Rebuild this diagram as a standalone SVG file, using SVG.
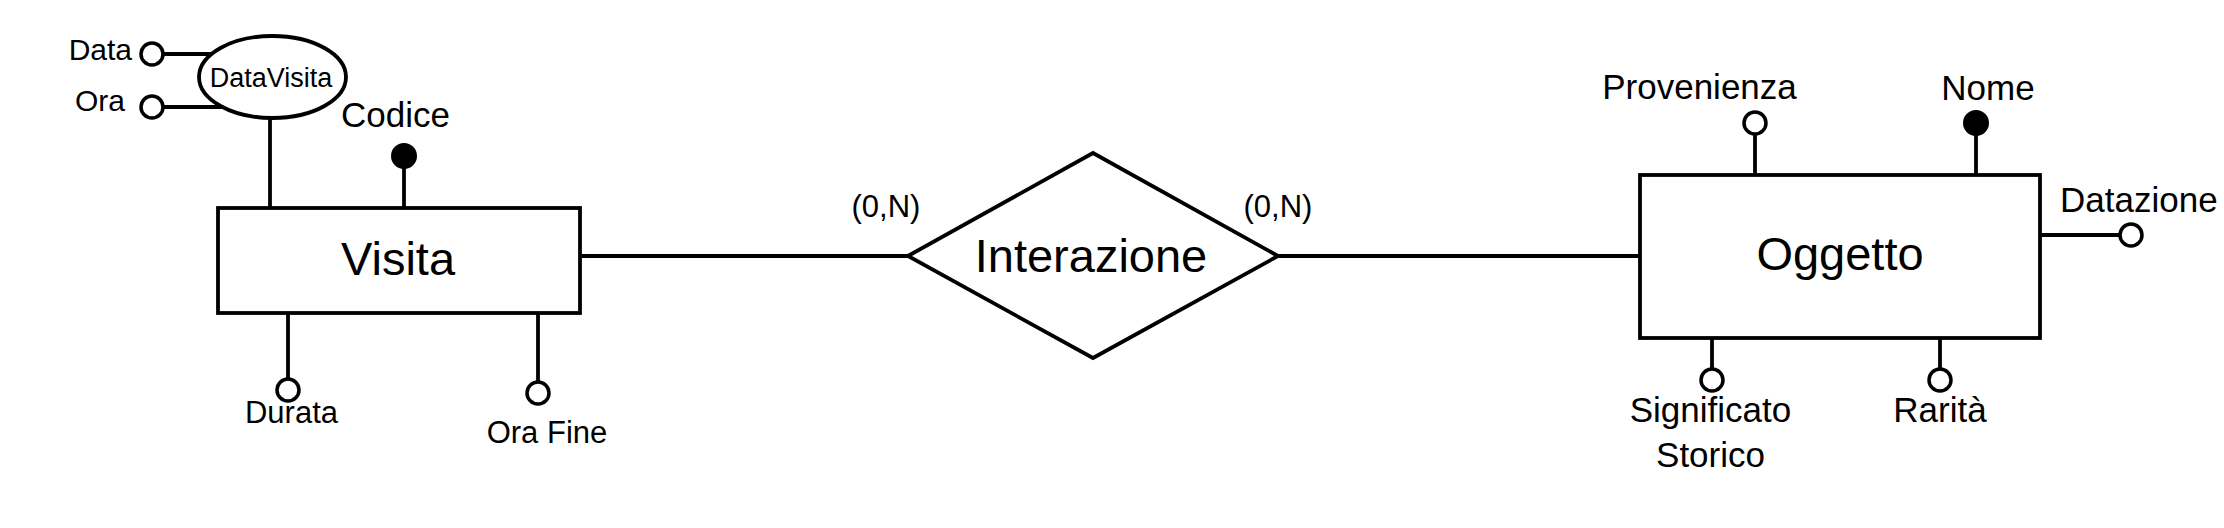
<svg xmlns="http://www.w3.org/2000/svg" width="2224" height="528" viewBox="0 0 2224 528">
<style>
.sh{fill:#fff;stroke:#000;stroke-width:3.8}
.ln{stroke:#000;stroke-width:3.8;fill:none}
.at{fill:#fff;stroke:#000;stroke-width:3.5}
.key{fill:#000;stroke:#000;stroke-width:2}
text{font-family:"Liberation Sans",Arial,sans-serif;fill:#000}
.big{font-size:47px;text-anchor:middle}
.a35{font-size:35px}
.a31{font-size:31px}
.a30{font-size:30px}
.mid{text-anchor:middle}
.end{text-anchor:end}
</style>
<rect width="2224" height="528" fill="#fff"/>
<g id="connectors">
<line class="ln" x1="580" y1="256" x2="908" y2="256"/>
<line class="ln" x1="1278" y1="256" x2="1640" y2="256"/>
<text class="a31 mid" x="886" y="217">(0,N)</text>
<text class="a31 mid" x="1278" y="217">(0,N)</text>
</g>
<g id="visita">
<rect class="sh" x="218" y="208" width="362" height="105"/>
<text class="big" x="398" y="275">Visita</text>
</g>
<g id="datavisita">
<line class="ln" x1="270" y1="118" x2="270" y2="208"/>
<line class="ln" x1="163" y1="54" x2="212" y2="54"/>
<line class="ln" x1="163" y1="107" x2="222" y2="107"/>
<ellipse class="sh" cx="272.5" cy="77" rx="73.5" ry="41"/>
<text class="mid" style="font-size:27px" x="271" y="87">DataVisita</text>
</g>
<g id="attr-data">
<circle class="at" cx="152" cy="54" r="11"/>
<text class="a30 end" x="132" y="60">Data</text>
</g>
<g id="attr-ora">
<circle class="at" cx="152" cy="107" r="11"/>
<text class="a30 end" x="125" y="111">Ora</text>
</g>
<g id="attr-codice">
<line class="ln" x1="404" y1="168" x2="404" y2="208"/>
<circle class="key" cx="404" cy="156" r="12"/>
<text class="a35 mid" x="395.5" y="127">Codice</text>
</g>
<g id="attr-durata">
<line class="ln" x1="288" y1="313" x2="288" y2="379"/>
<circle class="at" cx="288" cy="390" r="11"/>
<text class="a31 mid" x="291.5" y="423">Durata</text>
</g>
<g id="attr-orafine">
<line class="ln" x1="538" y1="313" x2="538" y2="382"/>
<circle class="at" cx="538" cy="393" r="11"/>
<text class="a31 mid" x="547" y="443">Ora Fine</text>
</g>
<g id="interazione">
<polygon class="sh" points="908,256 1093,153 1278,256 1093,358"/>
<text class="big" x="1091" y="272">Interazione</text>
</g>
<g id="oggetto">
<rect class="sh" x="1640" y="175" width="400" height="163"/>
<text class="big" x="1840" y="270">Oggetto</text>
</g>
<g id="attr-provenienza">
<line class="ln" x1="1755" y1="134" x2="1755" y2="175"/>
<circle class="at" cx="1755" cy="123" r="11"/>
<text class="a35 mid" x="1699.5" y="99">Provenienza</text>
</g>
<g id="attr-nome">
<line class="ln" x1="1976" y1="135" x2="1976" y2="175"/>
<circle class="key" cx="1976" cy="123" r="12"/>
<text class="a35 mid" x="1988" y="100">Nome</text>
</g>
<g id="attr-datazione">
<line class="ln" x1="2040" y1="235" x2="2120" y2="235"/>
<circle class="at" cx="2131" cy="235" r="11"/>
<text class="a35" x="2060" y="212">Datazione</text>
</g>
<g id="attr-significato">
<line class="ln" x1="1712" y1="338" x2="1712" y2="369"/>
<circle class="at" cx="1712" cy="380" r="11"/>
<text class="a35 mid" x="1710.5" y="422">Significato</text>
<text class="a35 mid" x="1710.5" y="467">Storico</text>
</g>
<g id="attr-rarita">
<line class="ln" x1="1940" y1="338" x2="1940" y2="369"/>
<circle class="at" cx="1940" cy="380" r="11"/>
<text class="a35 mid" x="1940" y="422">Rarità</text>
</g>
</svg>
